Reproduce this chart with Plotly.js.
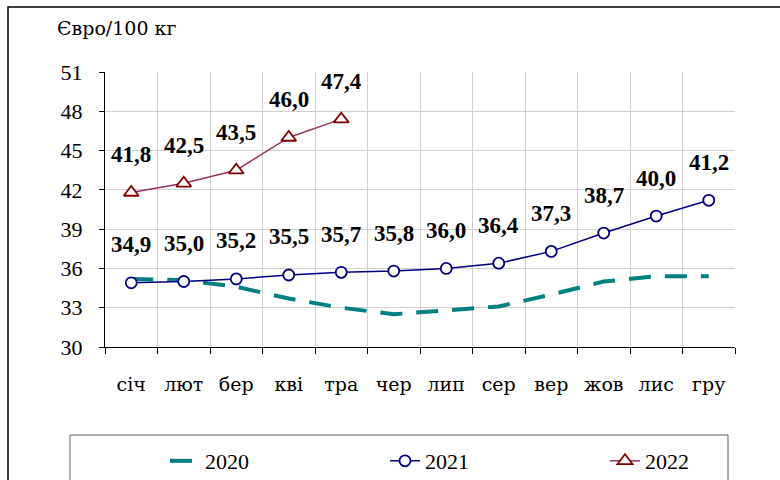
<!DOCTYPE html>
<html>
<head>
<meta charset="utf-8">
<script src="https://cdn.plot.ly/plotly-3.0.1.min.js"></script>
<style>
html,body{margin:0;padding:0;background:#fff;}
#chart{width:780px;height:480px;}
</style>
</head>
<body>
<div id="chart"></div>
<script>
const months = ["січ","лют","бер","кві","тра","чер","лип","сер","вер","жов","лис","гру"];
const v2020 = [35.2,35.1,34.6,33.7,33.0,32.5,32.8,33.1,34.0,35.0,35.4,35.4];
const v2021 = [34.9,35.0,35.2,35.5,35.7,35.8,36.0,36.4,37.3,38.7,40.0,41.2];
const v2022 = [41.8,42.5,43.5,46.0,47.4];
const yTicks = [30,33,36,39,42,45,48,51];
const yTitle = "Євро/100 кг";

const LAT = "Liberation Serif";   // digits / latin
const CYR = "DejaVu Serif";       // cyrillic text
const W = 780, H = 480;
const L = 105, R = 735, T = 72, B = 347;
const px = x => (x - L) / (R - L);
const py = y => (B - y) / (B - T);
const fmt = v => v.toFixed(1).replace('.', ',');

const traces = [
  {x: months, y: v2020, name: "2020", type: "scatter", mode: "lines", legend: "legend",
   line: {color: "#008080", width: 4, dash: "22px,14px"}},
  {x: months, y: v2021, name: "2021", type: "scatter", mode: "lines+markers", legend: "legend2",
   line: {color: "#000080", width: 1.5},
   marker: {symbol: "circle", size: 11, color: "#ffffff", line: {color: "#000080", width: 1.8}}},
  {x: months.slice(0, v2022.length), y: v2022, name: "2022", type: "scatter", mode: "lines+markers", legend: "legend3",
   line: {color: "#993366", width: 1.5},
   marker: {symbol: "triangle-up", size: 13, color: "#ffffff", line: {color: "#800000", width: 1.8}}}
];

const lblFont = {family: LAT, size: 23, color: "#000", weight: "bold"};
const annotations = [];
v2021.forEach((v, i) => annotations.push({x: months[i], y: v, xref: "x", yref: "y", text: fmt(v),
  showarrow: false, yshift: 38, font: lblFont}));
v2022.forEach((v, i) => annotations.push({x: months[i], y: v, xref: "x", yref: "y", text: fmt(v),
  showarrow: false, yshift: 38, font: lblFont}));
annotations.push({xref: "paper", yref: "paper", x: px(55), y: py(28), xanchor: "left", yanchor: "middle",
  text: yTitle, showarrow: false, font: {family: CYR, size: 19, color: "#000"}});

function leg(textX) {
  return {orientation: "h", xref: "container", yref: "container", x: (textX - 40) / W, y: 1 - 440 / H,
    xanchor: "left", yanchor: "top", bgcolor: "rgba(0,0,0,0)", borderwidth: 0,
    font: {family: LAT, size: 22, color: "#000"}};
}

const layout = {
  width: W, height: H,
  margin: {l: L, r: W - R, t: T, b: H - B},
  paper_bgcolor: "#fff", plot_bgcolor: "#fff",
  font: {family: LAT, color: "#000"},
  showlegend: true,
  legend: leg(205), legend2: leg(425), legend3: leg(645),
  xaxis: {type: "category", range: [-0.5, months.length - 0.5], autorange: false, automargin: false,
    tickson: "boundaries", showgrid: true, gridcolor: "#d0d0d0", gridwidth: 1,
    showline: true, linecolor: "#000", linewidth: 1, ticks: "outside", ticklen: 6, tickcolor: "#000",
    tickfont: {family: CYR, size: 19, color: "#000"}, ticklabelstandoff: 20, zeroline: false, fixedrange: true},
  yaxis: {range: [30, 51], autorange: false, automargin: false, tickvals: yTicks, ticktext: yTicks.map(String), showgrid: true,
    gridcolor: "#d0d0d0", gridwidth: 1, showline: true, linecolor: "#000", linewidth: 1,
    ticks: "outside", ticklen: 5, tickcolor: "#000", tickfont: {family: LAT, size: 22, color: "#000"},
    ticklabelstandoff: 12, zeroline: false, fixedrange: true},
  annotations: annotations,
  shapes: [
    {type: "rect", xref: "paper", yref: "paper", x0: px(8), x1: px(800), y0: py(500), y1: py(7),
     line: {color: "#000", width: 1.5}, fillcolor: "rgba(0,0,0,0)", layer: "above"},
    {type: "rect", xref: "paper", yref: "paper", x0: px(70), x1: px(728), y0: py(500), y1: py(435),
     line: {color: "#606060", width: 1}, fillcolor: "rgba(0,0,0,0)", layer: "above"}
  ]
};

Plotly.newPlot("chart", traces, layout, {displayModeBar: false, staticPlot: true});
</script>
</body>
</html>
